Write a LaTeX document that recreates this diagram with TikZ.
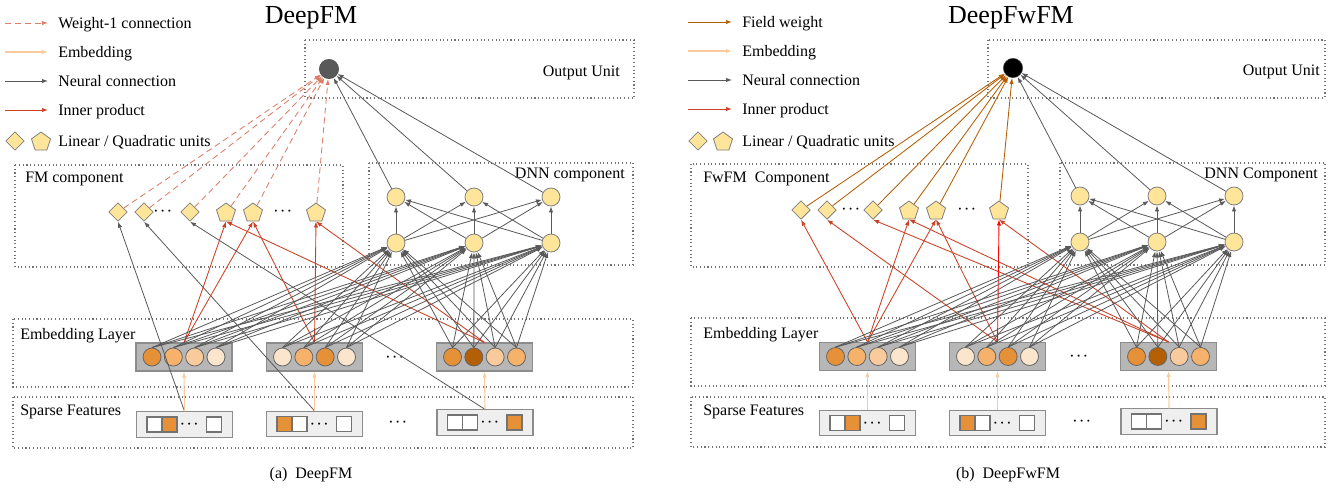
\documentclass[tikz,border=0pt]{standalone}
\usepackage{amsmath}
\usepackage{fontspec}
\setmainfont{Liberation Serif}
\usetikzlibrary{arrows.meta, shapes.geometric}

\definecolor{wone}{HTML}{DD7E6B}
\definecolor{embarrow}{HTML}{F9CB9C}
\definecolor{neural}{HTML}{595959}
\definecolor{inner}{HTML}{CC4125}
\definecolor{fieldw}{HTML}{B45F06}
\definecolor{unitfill}{HTML}{FFE599}
\definecolor{unitline}{HTML}{7F7F7F}
\definecolor{grpfill}{HTML}{B7B7B7}
\definecolor{sparsefill}{HTML}{EFEFEF}
\definecolor{emA}{HTML}{E69138}
\definecolor{emB}{HTML}{F6B26B}
\definecolor{emC}{HTML}{F9CB9C}
\definecolor{emD}{HTML}{FCE5CD}
\definecolor{emE}{HTML}{B45F06}

\newcommand{\dotsmark}{$\boldsymbol{\cdots}$}

\tikzset{
  compbox/.style={draw=black!55, dotted, line width=0.8pt},
  lbl/.style={font=\fontsize{12}{14}\selectfont, inner sep=0pt, text height=7.9pt, text depth=0pt},
  ttl/.style={font=\fontsize{19.5}{22}\selectfont, inner sep=0pt, text height=13pt, text depth=0pt},
  dts/.style={font=\fontsize{10}{10}\selectfont, inner sep=0pt},
  outnode/.style={circle, draw=black!70, minimum size=14.5pt, inner sep=0pt},
  unit/.style={circle, draw=unitline, fill=unitfill, minimum size=13.5pt, inner sep=0pt, line width=0.6pt},
  lin/.style={diamond, draw=unitline, fill=unitfill, minimum size=14pt, inner sep=0pt, line width=0.6pt},
  quad/.style={regular polygon, regular polygon sides=5, draw=unitline, fill=unitfill, minimum size=15pt, inner sep=0pt, line width=0.6pt},
  embc/.style={circle, draw=black!60, minimum size=13.5pt, inner sep=0pt, line width=0.6pt},
  grp/.style={rectangle, draw=black!45, fill=grpfill, minimum width=72pt, minimum height=21pt, line width=0.8pt},
  sgrp/.style={rectangle, draw=black!45, fill=sparsefill, minimum width=72pt, minimum height=19pt, line width=0.8pt},
  sq/.style={rectangle, draw=black!55, minimum size=11.25pt, inner sep=0pt, line width=0.8pt},
  arr/.style={-{Latex[length=4.5pt,width=3.2pt]}},
  nline/.style={arr, draw=neural, line width=0.6pt},
  wline/.style={arr, draw=wone, line width=0.65pt, dash pattern=on 4.5pt off 3pt},
  embline/.style={arr, draw=embarrow, line width=0.8pt},
  ipline/.style={arr, draw=inner, line width=0.65pt},
  fwline/.style={arr, draw=fieldw, line width=0.65pt},
}

\begin{document}
\begin{tikzpicture}[x=0.75pt, y=-0.75pt]
\useasboundingbox (0,0) rectangle (1337,493);

% ---------------- (a) DeepFM ----------------
\node[ttl] (atitle) at (311,15) {DeepFM};
\draw[compbox] (305,40) rectangle (634,98);
\draw[compbox] (369,163) rectangle (633,265);
\draw[compbox] (15,165) rectangle (343,267);
\draw[compbox] (13,319) rectangle (633,387);
\draw[compbox] (13,397) rectangle (633,448);
\node[lbl, anchor=east] (aoutl) at (620,71) {Output Unit};
\node[lbl, anchor=east] (adnnl) at (625,173) {DNN component};
\node[lbl, anchor=west] (afml) at (25,177) {FM component};
\node[lbl, anchor=west] (aeml) at (20,334) {Embedding Layer};
\node[lbl, anchor=west] (aspl) at (20,410) {Sparse Features};

% legend
\foreach \st/\txt [count=\i] in {wline/Weight-1 connection, embline/Embedding, nline/Neural connection, ipline/Inner product} {
  \coordinate (alg\i) at (5,{23+29*(\i-1)});
  \node[lbl, anchor=west] (alt\i) at (58,{23+29*(\i-1)}) {\txt};
  \draw[\st] (alg\i) -- ([xshift=-7.5pt]alt\i.west);
}
\node[lin] (alglin) at (15,141) {};
\node[quad] (algquad) at (41,142) {};
\node[lbl, anchor=west] (alt5) at (58,141) {Linear / Quadratic units};

% output and DNN
\node[outnode, fill=neural] (aout) at (329,69) {};
\foreach \d/\x in {1/396,2/474,3/551} {
  \node[unit] (adt\d) at (\x,197) {};
  \node[unit] (adb\d) at (\x,243) {};
}

% FM units
\foreach \n/\x in {1/118,2/144,3/190} \node[lin] (al\n) at (\x,212) {};
\foreach \n/\x in {1/226,2/253,3/316} \node[quad] (aq\n) at (\x,213) {};
\node[dts] (ald) at (164,211) {\dotsmark};
\node[dts] (aqd) at (284,211) {\dotsmark};

% embeddings
\foreach \g/\cx/\cols in {1/184/{emA,emB,emC,emD}, 2/314.5/{emD,emB,emA,emD}, 3/484.5/{emA,emE,emC,emB}} {
  \node[grp] (aeg\g) at (\cx,357) {};
  \foreach \col [count=\k] in \cols
    \node[embc, fill=\col] (aec\g\k) at ({\cx+(\k-2.5)*21.33},357) {};
}
\node[dts] (aed) at (396,357) {\dotsmark};

% sparse features
\foreach \g/\cx/\cy/\sa/\sb/\sc in {1/184.5/424.5/white/emA/white, 2/314.5/424/emA/white/white, 3/485/422.5/white/white/emA} {
  \node[sgrp] (asg\g) at (\cx,\cy) {};
  \node[sq, fill=\sa] (asq\g-1) at ({\cx-30},\cy) {};
  \node[sq, fill=\sb] (asq\g-2) at ({\cx-15},\cy) {};
  \node[dts] (asd\g) at ({\cx+6},\cy) {\dotsmark};
  \node[sq, fill=\sc] (asq\g-3) at ({\cx+29.5},\cy) {};
}
\node[dts] (asd) at (399,422) {\dotsmark};

% connections
\foreach \u in {al1,al2,al3,aq1,aq2,aq3} \draw[wline] (\u) -- (aout);
\foreach \k in {1,2,3} \draw[nline] (asg\k.north) -- (al\k.south);
\foreach \g/\q in {1/1,3/1,1/2,2/2,2/3,3/3} \draw[ipline] (aeg\g.north) -- (aq\q.south);
\foreach \g in {1,2,3} \foreach \k in {1,...,4} \foreach \d in {1,2,3}
  \draw[nline] (aec\g\k.north) -- (adb\d);
\foreach \i in {1,2,3} \foreach \j in {1,2,3} \draw[nline] (adb\i) -- (adt\j);
\foreach \j in {1,2,3} \draw[nline] (adt\j) -- (aout);
\foreach \g in {1,2,3} \draw[embline] (asg\g.north) -- (aeg\g.south);

\node[lbl] (acap) at (311,473) {(a)\ \ DeepFM};

% ---------------- (b) DeepFwFM ----------------
\node[ttl] (btitle) at (1011,15) {DeepFwFM};
\draw[compbox] (988,40) rectangle (1325,98);
\draw[compbox] (1060,163) rectangle (1325,265);
\draw[compbox] (691,164) rectangle (1028,267);
\draw[compbox] (691,318) rectangle (1325,386);
\draw[compbox] (691,397) rectangle (1325,447);
\node[lbl, anchor=east] (boutl) at (1320,70) {Output Unit};
\node[lbl, anchor=east] (bdnnl) at (1318,173) {DNN Component};
\node[lbl, anchor=west] (bfml) at (703,177) {FwFM\ \ Component};
\node[lbl, anchor=west] (beml) at (703,333) {Embedding Layer};
\node[lbl, anchor=west] (bspl) at (703,410) {Sparse Features};

% legend
\foreach \st/\txt [count=\i] in {fwline/Field weight, embline/Embedding, nline/Neural connection, ipline/Inner product} {
  \coordinate (blg\i) at (688,{22+29*(\i-1)});
  \node[lbl, anchor=west] (blt\i) at (742,{22+29*(\i-1)}) {\txt};
  \draw[\st] (blg\i) -- ([xshift=-7.5pt]blt\i.west);
}
\node[lin] (bglin) at (698,141) {};
\node[quad] (bgquad) at (723,142) {};
\node[lbl, anchor=west] (blt5) at (742,141) {Linear / Quadratic units};

% output and DNN
\node[outnode, fill=black] (bout) at (1013,68) {};
\foreach \d/\x in {1/1080,2/1157,3/1234} {
  \node[unit] (bdt\d) at (\x,196) {};
  \node[unit] (bdb\d) at (\x,242) {};
}

% FwFM units
\foreach \n/\x in {1/801,2/827,3/873} \node[lin] (bl\n) at (\x,210) {};
\foreach \n/\x in {1/909,2/936,3/999} \node[quad] (bq\n) at (\x,211) {};
\node[dts] (bld) at (852,209) {\dotsmark};
\node[dts] (bqd) at (968,209) {\dotsmark};

% embeddings
\foreach \g/\cx/\cols in {1/867.5/{emA,emB,emC,emD}, 2/997.5/{emD,emB,emA,emD}, 3/1168.5/{emA,emE,emC,emB}} {
  \node[grp] (beg\g) at (\cx,356.5) {};
  \foreach \col [count=\k] in \cols
    \node[embc, fill=\col] (bec\g\k) at ({\cx+(\k-2.5)*21.33},356.5) {};
}
\node[dts] (bed) at (1080,356) {\dotsmark};

% sparse features
\foreach \g/\cx/\cy/\sa/\sb/\sc in {1/867.5/423/white/emA/white, 2/997.5/423/emA/white/white, 3/1169/421.5/white/white/emA} {
  \node[sgrp] (bsg\g) at (\cx,\cy) {};
  \node[sq, fill=\sa] (bsq\g-1) at ({\cx-30},\cy) {};
  \node[sq, fill=\sb] (bsq\g-2) at ({\cx-15},\cy) {};
  \node[dts] (bsd\g) at ({\cx+6},\cy) {\dotsmark};
  \node[sq, fill=\sc] (bsq\g-3) at ({\cx+29.5},\cy) {};
}
\node[dts] (bsd) at (1083,421) {\dotsmark};

% connections
\foreach \u in {bl1,bl2,bl3,bq1,bq2,bq3} \draw[fwline] (\u) -- (bout);
\foreach \k in {1,2,3} \draw[ipline] (beg\k.north) -- (bl\k.south);
\foreach \g/\q in {1/1,3/1,1/2,2/2,3/3} \draw[ipline] (beg\g.north) -- (bq\q.south);
\draw[ipline, draw=red] (beg2.north) -- (bq3.south);
\foreach \g in {1,2,3} \foreach \k in {1,...,4} \foreach \d in {1,2,3}
  \draw[nline] (bec\g\k.north) -- (bdb\d);
\foreach \i in {1,2,3} \foreach \j in {1,2,3} \draw[nline] (bdb\i) -- (bdt\j);
\foreach \j in {1,2,3} \draw[nline] (bdt\j) -- (bout);
\foreach \g in {1,2,3} \draw[embline] (bsg\g.north) -- (beg\g.south);

\node[lbl] (bcap) at (1008,473) {(b)\ \ DeepFwFM};
\end{tikzpicture}
\end{document}
